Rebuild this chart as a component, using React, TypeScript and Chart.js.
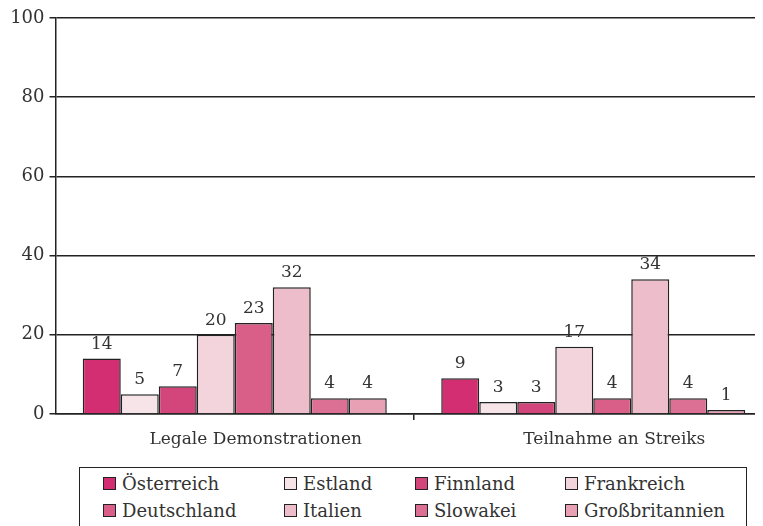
import React, { useEffect, useRef } from "react";
import { Chart, registerables } from "chart.js";

Chart.register(...registerables);

const categories = ["Legale Demonstrationen", "Teilnahme an Streiks"];
const countries = ["Österreich", "Estland", "Finnland", "Frankreich", "Deutschland", "Italien", "Slowakei", "Großbritannien"];
const oesterreich = [14, 9];
const estland = [5, 3];
const finnland = [7, 3];
const frankreich = [20, 17];
const deutschland = [23, 4];
const italien = [32, 34];
const slowakei = [4, 4];
const grossbritannien = [4, 1];
const seriesValues = [oesterreich, estland, finnland, frankreich, deutschland, italien, slowakei, grossbritannien];
const colors = ["#D32E72", "#F6E4E9", "#D3467B", "#F3D3DC", "#D95E88", "#EEBDCB", "#DC7094", "#E8A0B5"];
const yTicks = [0, 20, 40, 60, 80, 100];

const FONT = "'DejaVu Serif', 'Liberation Serif', serif";
const INK = "#222";
const TEXT = "#333";

const valueLabels = {
  id: "valueLabels",
  afterDatasetsDraw(chart: any) {
    const ctx = chart.ctx;
    ctx.save();
    ctx.font = `17px ${FONT}`;
    ctx.fillStyle = TEXT;
    ctx.textAlign = "center";
    ctx.textBaseline = "alphabetic";
    chart.data.datasets.forEach((ds: any, i: number) => {
      const meta = chart.getDatasetMeta(i);
      meta.data.forEach((el: any, j: number) => {
        ctx.fillText(String(ds.data[j]), el.x, el.y - 10);
      });
    });
    ctx.restore();
  },
};

export default function App() {
  const ref = useRef<HTMLCanvasElement>(null);
  useEffect(() => {
    if (!ref.current) return;
    const chart = new Chart(ref.current, {
      type: "bar",
      data: {
        labels: categories,
        datasets: countries.map((c, i) => ({
          label: c,
          data: seriesValues[i],
          backgroundColor: colors[i],
          borderColor: INK,
          borderWidth: 1.5,
          barPercentage: 1,
          categoryPercentage: 0.848,
        })),
      },
      options: {
        animation: false,
        responsive: false,
        maintainAspectRatio: false,
        layout: { padding: { top: 0, right: 5.5, left: 0, bottom: 0 } },
        plugins: { legend: { display: false }, tooltip: { enabled: false } },
        scales: {
          x: {
            offset: true,
            afterFit: (s: any) => { s.height = 40; },
            grid: {
              offset: true,
              drawOnChartArea: false,
              drawTicks: true,
              tickLength: 6,
              lineWidth: 1.5,
              color: (c: any) => (c.index === 1 ? INK : "rgba(0,0,0,0)"),
            },
            border: { display: true, color: INK, width: 1.5 },
            ticks: {
              font: { family: FONT, size: 17 },
              color: TEXT,
              padding: 9,
              labelOffset: 21,
              maxRotation: 0,
            },
          },
          y: {
            min: 0,
            max: 100,
            afterFit: (s: any) => { s.width = 47.5; s.paddingTop = 10; s.paddingBottom = 0; },
            afterBuildTicks: (s: any) => { s.ticks = yTicks.map((v) => ({ value: v })); },
            grid: { color: INK, lineWidth: 1.5, drawTicks: true, tickLength: 6 },
            border: { display: true, color: INK, width: 1.5 },
            ticks: {
              font: { family: FONT, size: 18 },
              color: TEXT,
              padding: 5,
            },
          },
        },
      },
      plugins: [valueLabels],
    });
    return () => chart.destroy();
  }, []);

  const colLeft = [23, 204, 335, 485];
  return (
    <div style={{ position: "relative", width: 755, height: 518, overflow: "hidden" }}>
      <canvas ref={ref} width={770} height={446} style={{ display: "block", width: 770, height: 446 }} />
      <div
        style={{
          position: "absolute",
          left: 71,
          top: 459,
          width: 666,
          height: 80,
          border: `1.5px solid ${INK}`,
          fontFamily: FONT,
          fontSize: 18,
          color: TEXT,
        }}
      >
        {countries.map((c, i) => {
          const col = i % 4;
          const row = Math.floor(i / 4);
          return (
            <div
              key={c}
              style={{
                position: "absolute",
                left: colLeft[col],
                top: 2 + row * 27,
                height: 27,
                display: "flex",
                alignItems: "center",
                whiteSpace: "nowrap",
              }}
            >
              <span
                style={{
                  display: "inline-block",
                  width: 11,
                  height: 11,
                  background: colors[i],
                  border: `1.5px solid ${INK}`,
                  marginRight: 6,
                }}
              />
              <span>{c}</span>
            </div>
          );
        })}
      </div>
    </div>
  );
}
